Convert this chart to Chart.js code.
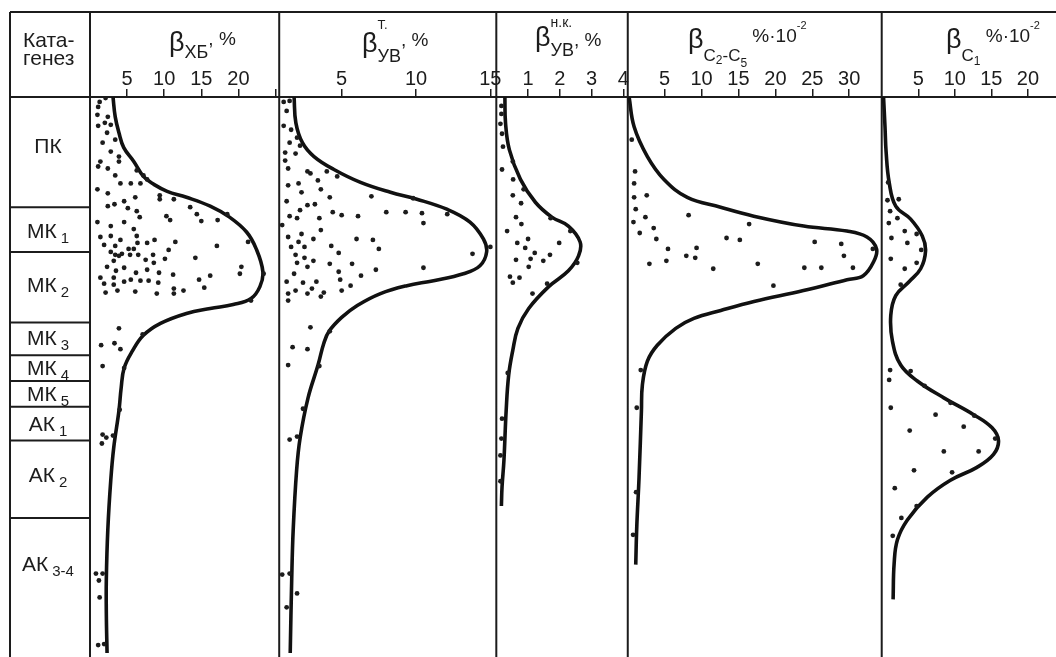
<!DOCTYPE html>
<html><head><meta charset="utf-8">
<script src="https://cdn.jsdelivr.net/npm/chart.js@4.4.1/dist/chart.umd.min.js"></script>
<style>html,body{margin:0;padding:0;background:#fff;}#wrap{width:1056px;height:657px;position:relative;}</style>
</head><body><div id="wrap"><canvas id="c"></canvas></div>
<script>
// ---- catagenesis stages (depth in arbitrary units, 0 = top of ПК) ----
const stageNames = ['ПК','МК','МК','МК','МК','МК','АК','АК','АК'];
const stageIndex = ['','1','2','3','4','5','1','2','3-4'];
const stageBounds = [0,111,156,227,260,286,312,346,424,560];

// ---- tick values ----
const hbTicks = [5,10,15,20,25];
const tvTicks = [5,10,15];
const nkTicks = [1,2,3,4];
const c25Ticks = [5,10,15,20,25,30];
const c1Ticks = [5,10,15,20];

// ---- β ХБ, % : points [value, depth] ----
const hbDots = [[1.3,5],[2.1,1],[1.1,10],[1.0,18],[2.4,20],[1.1,29],[2.0,26],[2.8,28],[2.3,36],[3.4,43],[1.7,46],[2.8,55],[3.9,60],[1.4,65],[3.9,65],[1.1,70],[2.4,72],[6.3,74],[3.4,79],[7.2,79],[7.7,83],[4.1,87],[5.5,87],[6.8,87],[1.0,93],[9.4,99],[2.4,97],[9.4,103],[11.3,103],[4.6,105],[6.1,101],[2.4,110],[3.3,108],[5.1,112],[6.3,115],[13.5,111],[6.7,121],[14.4,118],[18.5,118],[10.3,120],[10.8,124],[15.0,125],[17.2,124],[1.0,126],[2.8,130],[4.6,126],[5.9,133],[6.3,140],[1.4,141],[2.8,140],[4.1,144],[8.7,144],[7.7,147],[6.4,147],[11.5,146],[1.9,149],[3.4,150],[17.1,150],[5.2,153],[2.8,156],[5.9,153],[10.6,154],[6.5,159],[3.4,159],[3.9,160],[4.3,158],[5.4,159],[8.5,159],[14.2,162],[3.2,165],[7.5,164],[10.1,163],[8.6,167],[21.3,146],[2.3,171],[3.5,175],[4.6,172],[20.4,171],[7.7,174],[6.2,177],[9.3,177],[11.2,179],[23.4,178],[20.2,178],[16.2,180],[1.4,182],[3.2,182],[5.5,184],[6.8,185],[7.9,185],[14.7,184],[4.6,186],[1.9,188],[3.2,189],[9.2,187],[15.4,192],[11.3,193],[12.6,195],[3.7,195],[6.1,196],[2.1,197],[9.0,198],[11.3,198],[21.7,205],[3.9,233],[7.1,239],[1.5,250],[3.3,248],[4.1,254],[1.7,271],[4.6,273],[4.0,315],[1.7,340],[2.2,343],[3.1,341],[1.6,349],[0.8,480],[1.7,480],[1.2,487],[1.3,504],[1.1,552],[1.9,551]];
const hbCurve = [[3.1,0],[3.4,20],[3.9,36],[4.55,51],[5.9,65],[7.2,80],[8.6,88],[10.4,95],[13.0,101],[16.2,110],[18.8,121],[21.1,136],[22.4,153],[23.3,176],[22.9,191],[21.7,203],[19.3,209],[16.2,213],[13.0,218],[9.5,228],[7.2,240],[5.7,256],[4.6,273],[4.2,293],[3.9,316],[3.2,353],[2.8,386],[2.4,436],[2.2,486],[2.2,520],[2.3,560]];

// ---- β т. УВ, % ----
const tvDots = [[1.1,5],[1.5,4],[1.3,14],[1.1,29],[1.6,33],[2.0,41],[1.5,46],[2.2,49],[1.2,56],[1.9,57],[1.2,64],[1.4,72],[2.7,75],[2.9,77],[4.0,75],[4.7,80],[3.4,84],[1.4,89],[2.1,87],[3.6,93],[2.3,96],[4.2,101],[7.0,100],[9.8,102],[1.3,105],[2.7,109],[3.2,108],[2.2,114],[1.5,120],[2.0,122],[3.5,122],[4.4,116],[5.0,119],[6.1,120],[8.0,116],[9.3,116],[10.4,117],[12.1,118],[10.5,127],[1.0,129],[3.6,134],[1.4,141],[2.3,138],[3.1,143],[6.0,143],[7.1,144],[2.1,146],[1.6,151],[2.5,151],[4.3,150],[7.5,153],[4.8,157],[1.9,159],[2.5,162],[3.1,165],[2.0,167],[2.7,171],[4.2,168],[5.7,168],[13.8,158],[15.0,151],[10.5,172],[7.3,174],[4.8,176],[1.8,178],[6.3,180],[4.9,184],[1.3,186],[2.4,187],[3.3,186],[5.6,190],[1.4,198],[1.9,195],[2.7,198],[3.0,193],[3.6,201],[3.8,197],[5.0,195],[1.4,205],[2.9,232],[4.2,236],[1.7,252],[2.7,254],[1.4,270],[3.5,271],[2.4,314],[1.5,345],[2.0,342],[1.0,481],[1.5,480],[2.0,500],[1.3,514]];
const tvCurve = [[1.8,0],[1.92,26],[2.36,46],[3.14,60],[4.48,73],[6.27,86],[8.28,96],[10.06,103],[12.07,113],[13.63,126],[14.53,143],[14.75,156],[14.3,170],[13.19,178],[11.18,185],[9.39,190],[7.61,198],[6.05,210],[5.0,222],[4.15,236],[3.8,248],[3.41,270],[2.74,303],[2.21,343],[1.97,376],[1.74,436],[1.64,486],[1.54,560]];

// ---- β н.к. УВ, % ----
const nkDots = [[0.16,9],[0.16,17],[0.13,27],[0.18,37],[0.21,50],[0.52,65],[0.18,73],[0.53,83],[0.86,93],[0.52,99],[0.78,107],[0.62,121],[0.79,128],[1.71,122],[0.34,135],[2.33,135],[1.0,143],[0.66,147],[1.98,147],[0.91,152],[1.21,157],[1.69,159],[0.62,164],[1.08,163],[1.48,165],[1.02,171],[2.55,167],[0.43,181],[0.73,182],[0.52,187],[1.6,188],[1.14,198],[0.36,278],[0.18,324],[0.16,344],[0.13,361],[0.13,387]];
const nkCurve = [[0.27,0],[0.29,26],[0.41,53],[0.76,83],[1.23,106],[1.75,121],[2.27,130],[2.64,146],[2.59,160],[2.27,175],[1.65,191],[1.02,213],[0.68,233],[0.52,255],[0.39,280],[0.31,316],[0.24,366],[0.18,393],[0.16,412]];

// ---- β C2-C5, %·10^-2 ----
const c25Dots = [[0.54,43],[0.99,75],[0.86,87],[2.57,99],[0.86,101],[1.08,113],[8.24,119],[2.39,121],[16.44,128],[0.77,126],[3.51,132],[1.62,137],[3.87,143],[13.38,142],[15.18,144],[5.45,153],[9.32,152],[25.32,146],[28.92,148],[33.2,153],[29.28,160],[7.93,160],[9.14,162],[2.93,168],[5.23,165],[17.61,168],[11.58,173],[23.92,172],[26.22,172],[30.5,172],[19.73,190],[1.76,275],[1.22,313],[1.13,398],[0.72,441]];
const c25Curve = [[0.18,0],[0.86,30],[2.66,60],[4.91,83],[8.06,101],[12.57,111],[17.07,120],[23.83,130],[29.68,135],[32.4,141],[33.7,153],[33.3,166],[31.9,180],[29.7,184],[23.8,195],[17.1,206],[12.6,215],[8.96,223],[6.5,233],[4.0,250],[2.66,266],[1.98,290],[1.85,316],[1.53,383],[1.22,433],[1.08,471]];

// ---- β C1, %·10^-2 ----
const c1Dots = [[0.88,86],[0.79,104],[2.33,103],[1.15,115],[2.15,122],[0.97,127],[3.15,135],[4.78,138],[1.33,142],[3.51,147],[5.41,154],[1.24,163],[4.78,167],[3.15,173],[2.6,189],[1.15,275],[3.96,276],[1.02,285],[5.87,291],[9.41,308],[1.24,313],[7.37,320],[12.67,321],[11.22,332],[3.83,336],[15.53,344],[8.5,357],[13.26,357],[4.42,376],[9.63,378],[1.79,394],[4.78,412],[2.69,424],[1.51,442]];
const c1Curve = [[0.25,0],[0.45,30],[0.6,55],[1.02,86],[1.92,110],[3.96,123],[5.55,140],[6.0,155],[5.33,173],[3.74,186],[1.92,200],[1.24,220],[1.47,246],[2.6,270],[4.87,286],[8.5,303],[12.58,320],[15.07,333],[15.98,346],[15.3,360],[13.03,373],[9.4,386],[6.24,403],[3.51,426],[2.15,446],[1.7,470],[1.56,506]];

const FONT = '"Liberation Sans", Arial, sans-serif';
const INK = '#1c1c1c';

const panels = [
  {id:'x1', min:0,   max:25.5, ticks:hbTicks,  hide:[25], w:190, dots:hbDots,  curve:hbCurve},
  {id:'x2', min:0.8, max:15.4, ticks:tvTicks,  hide:[],   w:218, dots:tvDots,  curve:tvCurve},
  {id:'x3', min:0,   max:4.14, ticks:nkTicks,  hide:[],   w:132, dots:nkDots,  curve:nkCurve},
  {id:'x4', min:0,   max:34.4, ticks:c25Ticks, hide:[],   w:255, dots:c25Dots, curve:c25Curve},
  {id:'x5', min:0,   max:23.3, ticks:c1Ticks,  hide:[],   w:171, dots:c1Dots,  curve:c1Curve}
];

const toXY = arr => arr.map(p => ({x:p[0], y:p[1]}));

const datasets = [];
panels.forEach(p => {
  datasets.push({type:'scatter', data:toXY(p.dots), xAxisID:p.id, yAxisID:'y',
    pointRadius:2.4, pointBackgroundColor:INK, pointBorderWidth:0, showLine:false});
  datasets.push({type:'scatter', data:toXY(p.curve), xAxisID:p.id, yAxisID:'y',
    showLine:true, pointRadius:0, borderColor:'#111', borderWidth:3.6, tension:0.4, fill:false});
});

const scales = {
  y: {type:'linear', reverse:true, min:stageBounds[0], max:stageBounds[stageBounds.length-1], display:false}
};
// top boxes of one stack are laid out last-defined first, so add them in reverse
panels.slice().reverse().forEach(p => {
  scales[p.id] = {
    type:'linear', position:'top', stack:'panels', stackWeight:p.w,
    min:p.min, max:p.max,
    border:{display:false},
    grid:{drawOnChartArea:false, drawTicks:true, tickLength:8, color:INK, lineWidth:1.5},
    ticks:{autoSkip:false, maxRotation:0, minRotation:0, padding:-2, color:INK,
      font:{family:FONT, size:20},
      callback:(v) => p.hide.includes(v) ? '' : String(v)},
    afterBuildTicks:(s) => { s.ticks = p.ticks.map(v => ({value:v})); },
    afterFit:(s) => { s.height = 85; s.paddingLeft = 0; s.paddingRight = 0; }
  };
});

// header titles: pieces drawn with sub/superscripts
const titles = [
  {x:169, parts:[{t:'β',s:27,b:51},{t:'ХБ',s:18,b:58},{t:', %',s:19,b:45}]},
  {x:362, parts:[{t:'β',s:27,b:52},{t:'Т.',s:13,b:29,stack:true},{t:'УВ',s:18,b:62},{t:', %',s:19,b:46}]},
  {x:535, parts:[{t:'β',s:27,b:46},{t:'н.к.',s:14,b:27,stack:true},{t:'УВ',s:18,b:56},{t:', %',s:19,b:46}]},
  {x:688, parts:[{t:'β',s:27,b:48},{t:'C',s:17,b:61},{t:'2',s:12,b:64},{t:'-C',s:17,b:61},{t:'5',s:12,b:67},{t:' %·10',s:19,b:42},{t:'-2',s:11,b:29}]},
  {x:946, parts:[{t:'β',s:27,b:48},{t:'C',s:17,b:61},{t:'1',s:12,b:65},{t:' %·10',s:19,b:42},{t:'-2',s:11,b:29}]}
];

function drawParts(ctx, x, parts){
  let cx = x, stackW = 0, inStack = false;
  parts.forEach(pt => {
    ctx.font = pt.s + 'px ' + FONT;
    const w = ctx.measureText(pt.t).width;
    ctx.fillText(pt.t, cx, pt.b);
    if (pt.stack) { stackW = w; inStack = true; }
    else if (inStack) { cx += Math.max(w, stackW); inStack = false; }
    else { cx += w; }
  });
}

const labelShift = [-7, 1, -3, -1, -1, 0, 0, -5, -22];

const framePlugin = {
  id:'frame',
  beforeDatasetsDraw(chart){
    const ctx = chart.ctx, ys = chart.scales.y;
    const top = 12, bottom = chart.height, left = 10, right = chart.width;
    const hb = chart.chartArea.top, colRight = chart.chartArea.left;
    ctx.save();
    ctx.strokeStyle = INK; ctx.lineWidth = 2;
    ctx.beginPath();
    ctx.moveTo(left, top); ctx.lineTo(right, top);
    ctx.moveTo(left, hb); ctx.lineTo(right, hb);
    ctx.moveTo(left, top); ctx.lineTo(left, bottom);
    panels.forEach(p => { const s = chart.scales[p.id]; ctx.moveTo(s.left, top); ctx.lineTo(s.left, bottom); });
    stageBounds.slice(1, -1).forEach(d => { const py = ys.getPixelForValue(d); ctx.moveTo(left, py); ctx.lineTo(colRight, py); });
    ctx.stroke();

    ctx.fillStyle = INK; ctx.textBaseline = 'alphabetic'; ctx.textAlign = 'left';
    // column header
    ctx.font = '21px ' + FONT;
    ctx.fillText('Ката-', 23, 47);
    ctx.fillText('генез', 23, 65);
    // stage labels
    const cxCol = (left + colRight) / 2 - 2;
    stageNames.forEach((nm, i) => {
      const y0 = ys.getPixelForValue(stageBounds[i]), y1 = ys.getPixelForValue(stageBounds[i+1]);
      const base = (y0 + y1) / 2 + 7.5 + labelShift[i];
      ctx.font = '21px ' + FONT;
      const w1 = ctx.measureText(nm).width;
      ctx.font = '15px ' + FONT;
      const sub = stageIndex[i];
      const w2 = sub ? ctx.measureText(sub).width + 4 : 0;
      const x0 = cxCol - (w1 + w2) / 2;
      ctx.font = '21px ' + FONT;
      ctx.fillText(nm, x0, base);
      if (sub) { ctx.font = '15px ' + FONT; ctx.fillText(sub, x0 + w1 + 4, base + 5); }
    });
    // titles
    titles.forEach(t => drawParts(ctx, t.x, t.parts));
    ctx.restore();
  }
};

new Chart(document.getElementById('c'), {
  data:{datasets},
  options:{
    responsive:true, maintainAspectRatio:false, animation:false,
    layout:{padding:{left:90, top:12, right:0, bottom:0}},
    plugins:{legend:{display:false}, tooltip:{enabled:false}},
    scales
  },
  plugins:[framePlugin]
});
</script></body></html>
